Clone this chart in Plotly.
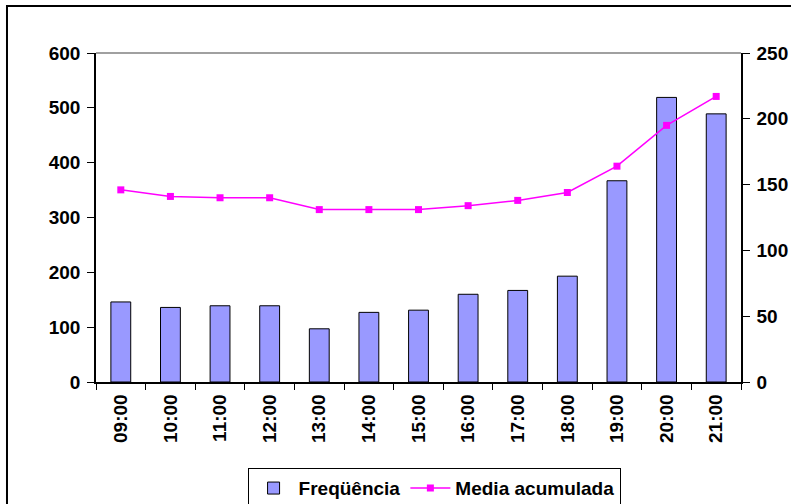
import plotly.graph_objects as go

horas = ["09:00", "10:00", "11:00", "12:00", "13:00", "14:00", "15:00",
         "16:00", "17:00", "18:00", "19:00", "20:00", "21:00"]
frequencia = [146, 136, 139, 139, 97, 127, 131, 160, 167, 193, 367, 519, 489]
media_acumulada = [146, 141, 140, 140, 131, 131, 131, 134, 138, 144, 164, 195, 217]

FONT = "Arial, Liberation Sans, sans-serif"
TF = dict(family=FONT, size=19, color="black", weight="bold")

fig = go.Figure()
fig.add_trace(go.Bar(
    x=horas, y=frequencia, name="Freqüência",
    marker=dict(color="#9999FF", line=dict(color="black", width=1)),
))
fig.add_trace(go.Scatter(
    x=horas, y=media_acumulada, name="Media acumulada", yaxis="y2",
    mode="lines+markers",
    line=dict(color="#FF00FF", width=1.5),
    marker=dict(symbol="square", size=7, color="#FF00FF"),
))

fig.update_layout(
    width=791, height=504,
    margin=dict(l=96, r=50, t=53, b=122, autoexpand=False),
    paper_bgcolor="white", plot_bgcolor="white",
    font=dict(family=FONT, size=19, color="black"),
    bargap=0.6,
    showlegend=True,
    legend=dict(orientation="h", x=0.235, xanchor="left", y=-0.262, yanchor="top",
                bordercolor="black", borderwidth=1, bgcolor="white",
                font=TF, itemwidth=40, tracegroupgap=0),
    xaxis=dict(type="category", range=[-0.5, 12.5], showline=True, linecolor="black",
               linewidth=1.5, ticks="outside", ticklen=6, tickcolor="black",
               tickson="boundaries", tickangle=-90, showgrid=False, zeroline=False,
               automargin=False, tickfont=TF, ticklabelstandoff=3),
    yaxis=dict(range=[0, 600], dtick=100, showline=True, linecolor="black", linewidth=1.5,
               ticks="outside", ticklen=7, tickcolor="black", showgrid=False, zeroline=False,
               automargin=False, tickfont=TF, ticklabelstandoff=3),
    yaxis2=dict(range=[0, 250], dtick=50, overlaying="y", side="right", showline=True,
                linecolor="black", linewidth=1.5, ticks="outside", ticklen=7,
                tickcolor="black", showgrid=False, zeroline=False,
                automargin=False, tickfont=TF, ticklabelstandoff=3),
    shapes=[
        dict(type="line", xref="paper", yref="paper", x0=0, x1=1, y0=1, y1=1,
             line=dict(color="#808080", width=1.5)),
        dict(type="rect", xref="paper", yref="paper", x0=-0.138, x1=1.2, y0=-0.6, y1=1.143,
             line=dict(color="black", width=2), layer="below"),
    ],
)

fig.write_html("out.html")
